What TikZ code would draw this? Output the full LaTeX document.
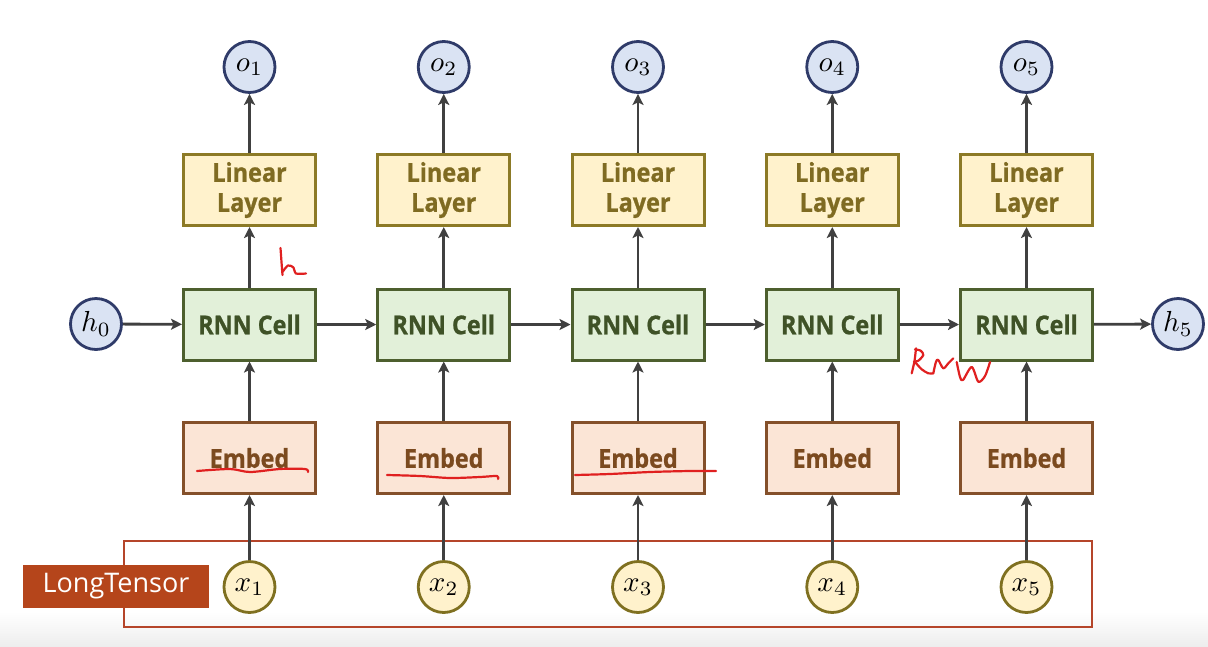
\documentclass[tikz,border=0pt]{standalone}
\usepackage{fontspec}
\setsansfont{Open Sans}
\newfontfamily\boxfont[FakeStretch=0.9, BoldFeatures={FakeBold=0.8}]{Open Sans}
\usepackage{graphicx}
\usetikzlibrary{arrows.meta}
\definecolor{cblue}{HTML}{DAE3F3}
\definecolor{cbluedraw}{HTML}{2F3B69}
\definecolor{linfill}{HTML}{FFF2CC}
\definecolor{lindraw}{HTML}{8C7A26}
\definecolor{lintext}{HTML}{7F6B22}
\definecolor{rnnfill}{HTML}{E2F0D9}
\definecolor{rnndraw}{HTML}{4D5F2E}
\definecolor{rnntext}{HTML}{3F5227}
\definecolor{embfill}{HTML}{FBE5D6}
\definecolor{embdraw}{HTML}{84502A}
\definecolor{embtext}{HTML}{7B4A1F}
\definecolor{xdraw}{HTML}{7F7020}
\definecolor{tensordraw}{HTML}{B5452A}
\definecolor{tensorfill}{HTML}{B5451B}
\definecolor{arrcol}{HTML}{404040}
\definecolor{ink}{HTML}{E02020}
\begin{document}
\begin{tikzpicture}[x=1pt,y=-1pt,
  box/.style={draw, line width=3pt, minimum width=132pt, minimum height=71pt, inner sep=0pt, align=center,
    font=\boxfont\bfseries\fontsize{26}{30}\selectfont},
  linbox/.style={box, fill=linfill, draw=lindraw, text=lintext},
  rnnbox/.style={box, fill=rnnfill, draw=rnndraw, text=rnntext},
  embbox/.style={box, fill=embfill, draw=embdraw, text=embtext},
  bcirc/.style={circle, draw=cbluedraw, fill=cblue, line width=2.8pt, minimum size=51pt, inner sep=0pt},
  xcirc/.style={circle, draw=xdraw, fill=linfill, line width=2.8pt, minimum size=51pt, inner sep=0pt},
  arr/.style={draw=arrcol, line width=2.8pt, -{Stealth[length=11pt,width=11pt,inset=2.5pt]}},
  inkline/.style={draw=ink, line width=2.2pt, line cap=round, line join=round}
]
\useasboundingbox (0,0) rectangle (1208,646);
\fill[white] (0,0) rectangle (1208,646);
\shade[top color=white, bottom color=black!7] (0,612) rectangle (1208,646);

% LongTensor frame and label
\node[draw=tensordraw, line width=2.8pt, minimum width=968pt, minimum height=86pt, inner sep=0pt] (T) at (608,584) {};
\node[fill=tensorfill, text=white, minimum width=186pt, minimum height=43pt, inner sep=0pt,
  font=\sffamily\fontsize{27}{32}\selectfont] (LT) at (116,586.5) {LongTensor};

% columns
\foreach \i in {1,...,5} {
  \pgfmathsetmacro\cx{249.5+(\i-1)*194.25}
  \node[bcirc] (o\i) at (\cx,67) {\scalebox{2.9}{$o_{\i}$}};
  \node[linbox] (L\i) at (\cx,190) {Linear\\Layer};
  \node[rnnbox] (R\i) at (\cx,324.5) {RNN Cell};
  \node[embbox] (E\i) at (\cx,458) {Embed};
  \node[xcirc] (x\i) at (\cx,587) {\scalebox{2.9}{$x_{\i}$}};
  \draw[arr] (L\i) -- (o\i);
  \draw[arr] (R\i) -- (L\i);
  \draw[arr] (E\i) -- (R\i);
  \draw[arr] (x\i) -- (E\i);
}
\node[bcirc] (h0) at (96,324) {\scalebox{2.9}{$h_0$}};
\node[bcirc] (h5) at (1178,324) {\scalebox{2.9}{$h_5$}};
\draw[arr] (h0) -- (R1);
\draw[arr] (R1) -- (R2);
\draw[arr] (R2) -- (R3);
\draw[arr] (R3) -- (R4);
\draw[arr] (R4) -- (R5);
\draw[arr] (R5) -- (h5);

% handwritten annotations
\draw[inkline] plot[smooth] coordinates {(280.5,248) (281.5,262) (282.5,275)};
\draw[inkline] plot[smooth] coordinates {(282.5,272) (288,265.5) (293.5,267.5) (296,273.5) (306,273.5)};
\draw[inkline] plot[smooth] coordinates {(916,348.3) (914.5,361) (911.7,373.3)};
\draw[inkline] plot[smooth] coordinates {(915,349.3) (920.7,350.7) (923.3,355) (918.3,360.7) (914,361.7)};
\draw[inkline] plot[smooth] coordinates {(915,362) (921.7,369.3) (928.3,373.3) (933.3,373.3)};
\draw[inkline] plot[smooth] coordinates {(933.3,373.3) (936,361.7) (938.3,360) (943.3,368.3) (948.3,363.3) (953.3,358.3)};
\draw[inkline] plot[smooth] coordinates {(956.7,362) (960,377) (963,380) (971.7,367) (978.3,381.7) (985,376) (990,362)};
\draw[inkline] plot[smooth] coordinates {(197,471) (230,469) (250,472) (280,469) (305,469) (308,472)};
\draw[inkline] plot[smooth] coordinates {(387,475) (420,476) (450,478) (480,477) (497,476) (498,479)};
\draw[inkline] plot[smooth] coordinates {(575,475) (610,474) (650,472) (690,471) (716,471)};
\end{tikzpicture}
\end{document}
